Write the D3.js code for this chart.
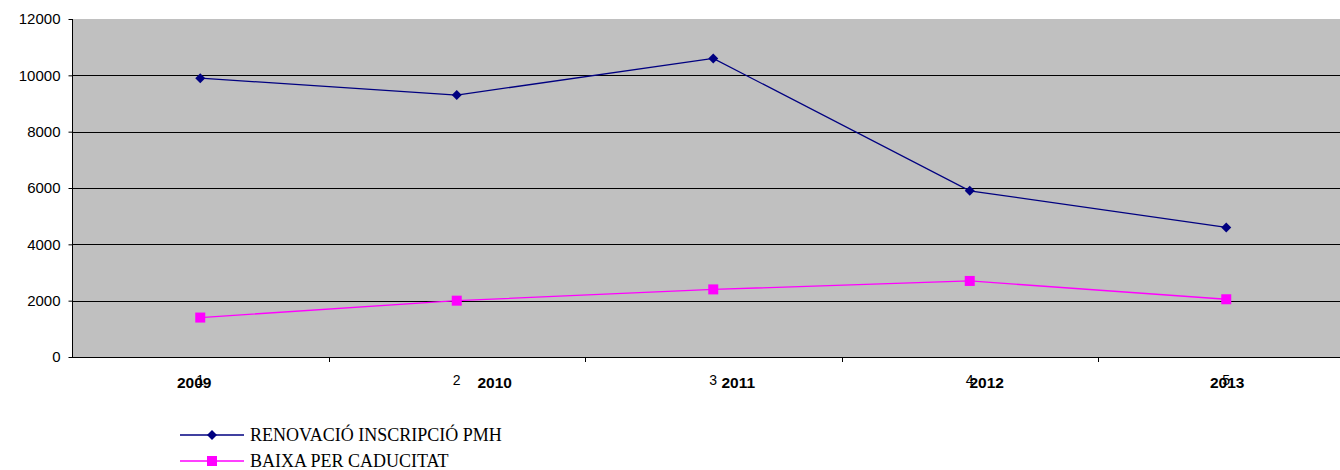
<!DOCTYPE html>
<html>
<head>
<meta charset="utf-8">
<script src="https://cdn.jsdelivr.net/npm/d3@7"></script>
<style>
  html, body { margin: 0; padding: 0; background: #fff; }
  svg { display: block; }
</style>
</head>
<body>
<svg id="chart" width="1340" height="470"></svg>
<script>
const categories = ["1", "2", "3", "4", "5"];
const years = ["2009", "2010", "2011", "2012", "2013"];
const renovacio = [9900, 9300, 10600, 5900, 4600];
const baixa = [1400, 2000, 2400, 2700, 2050];
const yTicks = [0, 2000, 4000, 6000, 8000, 10000, 12000];
const seriesNames = ["RENOVACIÓ INSCRIPCIÓ PMH", "BAIXA PER CADUCITAT"];

(function () {
const svg = d3.select("#chart");
const plotLeft = 72, plotTop = 19, plotBottom = 357, band = 256.5;
const plotRight = plotLeft + band * categories.length;
const sans = "Liberation Sans, Arial, sans-serif";

const x = d3.scaleBand().domain(categories).range([plotLeft, plotRight]).paddingInner(0).paddingOuter(0);
const y = d3.scaleLinear().domain([0, 12000]).range([plotBottom, plotTop]);

// plot background
svg.append("rect").attr("x", plotLeft).attr("y", plotTop)
  .attr("width", plotRight - plotLeft).attr("height", plotBottom - plotTop).attr("fill", "#C0C0C0");

// gridlines
svg.append("g").selectAll("line").data(yTicks.filter(d => d > 0 && d < 12000)).join("line")
  .attr("x1", plotLeft).attr("x2", plotRight)
  .attr("y1", d => Math.round(y(d)) + 0.5).attr("y2", d => Math.round(y(d)) + 0.5)
  .attr("stroke", "#000").attr("stroke-width", 1);

// y axis
const yAxis = d3.axisLeft(y).tickValues(yTicks).tickSize(4).tickPadding(8).tickFormat(d3.format("d"));
const gy = svg.append("g").attr("transform", `translate(${plotLeft + 0.5},0)`).call(yAxis);
gy.selectAll("text").attr("font-family", sans).attr("font-size", 15).attr("fill", "#000");
gy.selectAll("line,path").attr("stroke", "#000");
gy.select("path").attr("d", `M0,${plotTop}V${plotBottom}`);

// x axis line & boundary ticks
svg.append("line").attr("x1", plotLeft).attr("x2", plotRight)
  .attr("y1", plotBottom + 0.5).attr("y2", plotBottom + 0.5).attr("stroke", "#000");
svg.append("g").selectAll("line").data(categories.slice(1)).join("line")
  .attr("x1", d => Math.round(x(d)) + 0.5).attr("x2", d => Math.round(x(d)) + 0.5)
  .attr("y1", plotBottom).attr("y2", plotBottom + 5).attr("stroke", "#000");

// category index labels
svg.append("g").selectAll("text").data(categories).join("text")
  .attr("x", d => x(d) + x.bandwidth() / 2).attr("y", 385)
  .attr("text-anchor", "middle")
  .attr("font-family", sans).attr("font-size", 14)
  .text(d => d);

// year labels (shifted as in the source)
const yearShift = [-6, 38, 25, 17, 1];
svg.append("g").selectAll("text").data(years).join("text")
  .attr("x", (d, i) => x(categories[i]) + x.bandwidth() / 2 + yearShift[i]).attr("y", 388)
  .attr("text-anchor", "middle")
  .attr("font-family", sans).attr("font-size", 15.5).attr("font-weight", "bold")
  .text(d => d);

const cx = (d, i) => x(categories[i]) + x.bandwidth() / 2;
const line = d3.line().x((d, i) => cx(d, i)).y(d => y(d));

// series 1
svg.append("path").datum(renovacio).attr("d", line).attr("fill", "none").attr("stroke", "#000080").attr("stroke-width", 1.3);
svg.append("g").selectAll("path").data(renovacio).join("path")
  .attr("transform", (d, i) => `translate(${cx(d, i)},${y(d)})`)
  .attr("d", "M0,-5L5,0L0,5L-5,0Z").attr("fill", "#000080");

// series 2
svg.append("path").datum(baixa).attr("d", line).attr("fill", "none").attr("stroke", "#FF00FF").attr("stroke-width", 1.3);
svg.append("g").selectAll("rect").data(baixa).join("rect")
  .attr("x", (d, i) => cx(d, i) - 5).attr("y", d => y(d) - 5)
  .attr("width", 10).attr("height", 10).attr("fill", "#FF00FF");

// legend
const legend = svg.append("g");
const legY = [435, 461];
const colors = ["#000080", "#FF00FF"];
seriesNames.forEach((name, i) => {
  const g = legend.append("g").attr("transform", `translate(0,${legY[i]})`);
  g.append("line").attr("x1", 180).attr("x2", 244).attr("y1", 0).attr("y2", 0).attr("stroke", colors[i]).attr("stroke-width", 1.3);
  if (i === 0) g.append("path").attr("transform", "translate(212,0)").attr("d", "M0,-5L5,0L0,5L-5,0Z").attr("fill", colors[i]);
  else g.append("rect").attr("x", 207).attr("y", -5).attr("width", 10).attr("height", 10).attr("fill", colors[i]);
  g.append("text").attr("x", 250).attr("y", 6).attr("font-family", "Liberation Serif, 'Times New Roman', serif")
    .attr("font-size", 18).attr("fill", "#000").text(name);
});
})();
</script>
</body>
</html>
